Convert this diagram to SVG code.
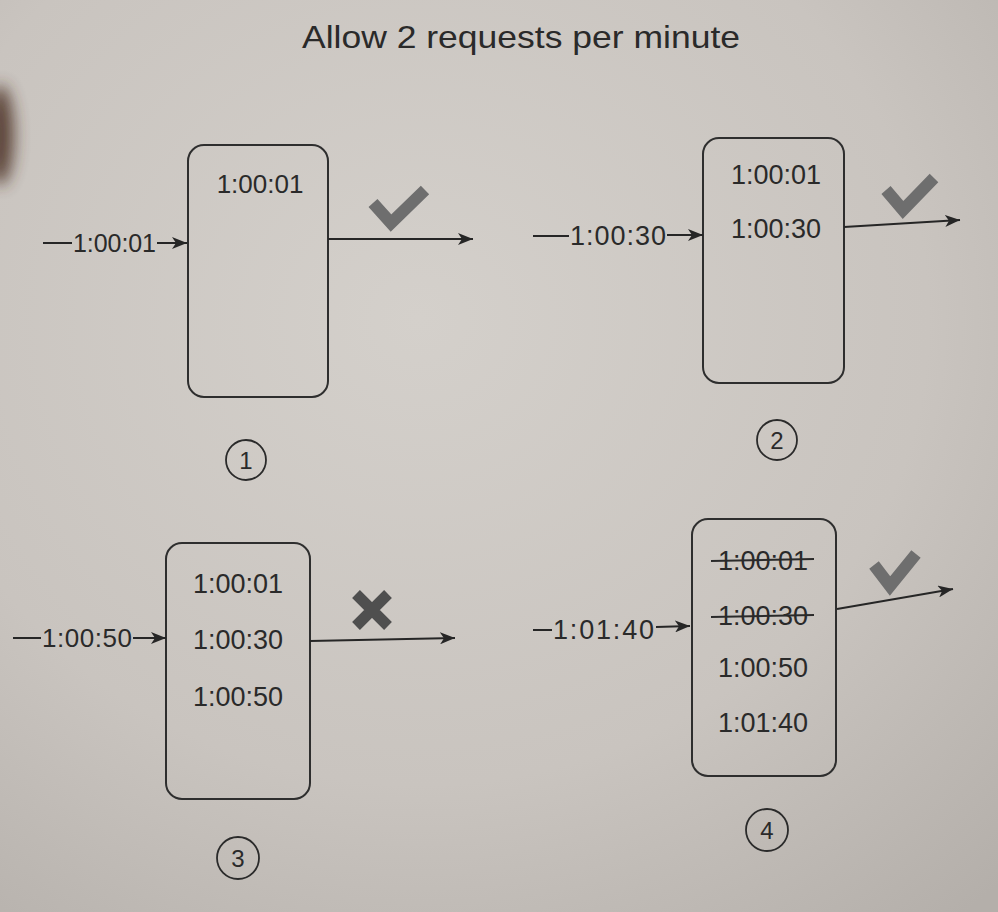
<svg xmlns="http://www.w3.org/2000/svg" width="998" height="912" viewBox="0 0 998 912">
  <defs>
    <radialGradient id="paper" cx="0.42" cy="0.35" r="0.85">
      <stop offset="0" stop-color="#d4d0cb"/>
      <stop offset="0.6" stop-color="#c9c4bf"/>
      <stop offset="1" stop-color="#b4afaa"/>
    </radialGradient>
    <filter id="soft" x="-1" y="-1" width="3" height="3">
      <feGaussianBlur stdDeviation="8"/>
    </filter>
    <marker id="head" markerUnits="userSpaceOnUse" markerWidth="16" markerHeight="12" refX="15" refY="6" orient="auto">
      <path d="M0,0 L15,6 L0,12 L4,6 Z" fill="#262626"/>
    </marker>
    <style>
      .box { fill: none; stroke: #2e2e2e; stroke-width: 2; }
      .t { font-family: "Liberation Sans", Arial, sans-serif; fill: #2a2a2a; text-anchor: middle; }
      .in { font-family: "Liberation Sans", Arial, sans-serif; fill: #2a2a2a; }
      .wire { fill: none; stroke: #262626; stroke-width: 2; }
      .ok { fill: none; stroke: #6e6e6e; stroke-width: 12; stroke-linejoin: miter; }
      .no { fill: none; stroke: #4f4f4f; stroke-width: 11; }
      .num { fill: none; stroke: #2a2a2a; stroke-width: 1.8; }
      .strike { stroke: #2a2a2a; stroke-width: 2; }
    </style>
  </defs>

  <!-- page background -->
  <rect width="998" height="912" fill="url(#paper)"/>
  <ellipse cx="0" cy="135" rx="14" ry="50" fill="#4a2e20" opacity="0.85" filter="url(#soft)"/>

  <!-- heading -->
  <text class="t" x="521" y="48" font-size="32" textLength="438" lengthAdjust="spacingAndGlyphs">Allow 2 requests per minute</text>

  <!-- step 1 -->
  <g id="step1">
    <rect class="box" x="188" y="145" width="140" height="252" rx="16"/>
    <text class="t" x="260" y="193" font-size="26">1:00:01</text>
    <path class="ok" d="M373,203 L391,223 L425,190"/>
    <circle class="num" cx="246" cy="460" r="20"/>
    <text class="t" x="246" y="469" font-size="24">1</text>
  </g>

  <!-- step 2 -->
  <g id="step2">
    <rect class="box" x="703" y="138" width="141" height="245" rx="16"/>
    <text class="t" x="776" y="184" font-size="27">1:00:01</text>
    <text class="t" x="776" y="238" font-size="27">1:00:30</text>
    <path class="ok" d="M886,190 L903,210 L934,178"/>
    <circle class="num" cx="777" cy="440" r="20"/>
    <text class="t" x="777" y="449" font-size="24">2</text>
  </g>

  <!-- step 3 -->
  <g id="step3">
    <rect class="box" x="166" y="543" width="144" height="256" rx="16"/>
    <text class="t" x="238" y="593" font-size="27">1:00:01</text>
    <text class="t" x="238" y="649" font-size="27">1:00:30</text>
    <text class="t" x="238" y="706" font-size="27">1:00:50</text>
    <path class="no" d="M356,594 L388,626 M388,594 L356,626"/>
    <circle class="num" cx="238" cy="858" r="21"/>
    <text class="t" x="238" y="867" font-size="24">3</text>
  </g>

  <!-- step 4 -->
  <g id="step4">
    <rect class="box" x="692" y="519" width="144" height="257" rx="16"/>
    <text class="t" x="763" y="570" font-size="27">1:00:01</text>
    <line class="strike" x1="711" y1="561" x2="814" y2="559"/>
    <text class="t" x="763" y="625" font-size="27">1:00:30</text>
    <line class="strike" x1="711" y1="617" x2="814" y2="615"/>
    <text class="t" x="763" y="677" font-size="27">1:00:50</text>
    <text class="t" x="763" y="732" font-size="27">1:01:40</text>
    <path class="ok" d="M874,565 L890,586 L916,554"/>
    <circle class="num" cx="767" cy="830" r="21"/>
    <text class="t" x="767" y="839" font-size="24">4</text>
  </g>

  <!-- incoming requests and outgoing results -->
  <g id="connectors">
    <line class="wire" x1="43" y1="243" x2="72" y2="243"/>
    <text class="in" x="73" y="252" font-size="25" textLength="83">1:00:01</text>
    <line class="wire" x1="157" y1="243" x2="187" y2="243" marker-end="url(#head)"/>
    <line class="wire" x1="328" y1="239" x2="473" y2="239" marker-end="url(#head)"/>

    <line class="wire" x1="533" y1="236" x2="569" y2="236"/>
    <text class="in" x="570" y="245" font-size="27" textLength="96">1:00:30</text>
    <line class="wire" x1="667" y1="235" x2="703" y2="235" marker-end="url(#head)"/>
    <line class="wire" x1="844" y1="227" x2="960" y2="220" marker-end="url(#head)"/>

    <line class="wire" x1="13" y1="638" x2="41" y2="638"/>
    <text class="in" x="42" y="647" font-size="26" textLength="90">1:00:50</text>
    <line class="wire" x1="133" y1="638" x2="166" y2="638" marker-end="url(#head)"/>
    <line class="wire" x1="310" y1="641" x2="455" y2="638" marker-end="url(#head)"/>

    <line class="wire" x1="533" y1="630" x2="552" y2="630"/>
    <text class="in" x="553" y="639" font-size="27" textLength="101">1:01:40</text>
    <line class="wire" x1="656" y1="627" x2="690" y2="626" marker-end="url(#head)"/>
    <path class="wire" d="M837,609 Q900,598 953,589" marker-end="url(#head)"/>
  </g>
</svg>
